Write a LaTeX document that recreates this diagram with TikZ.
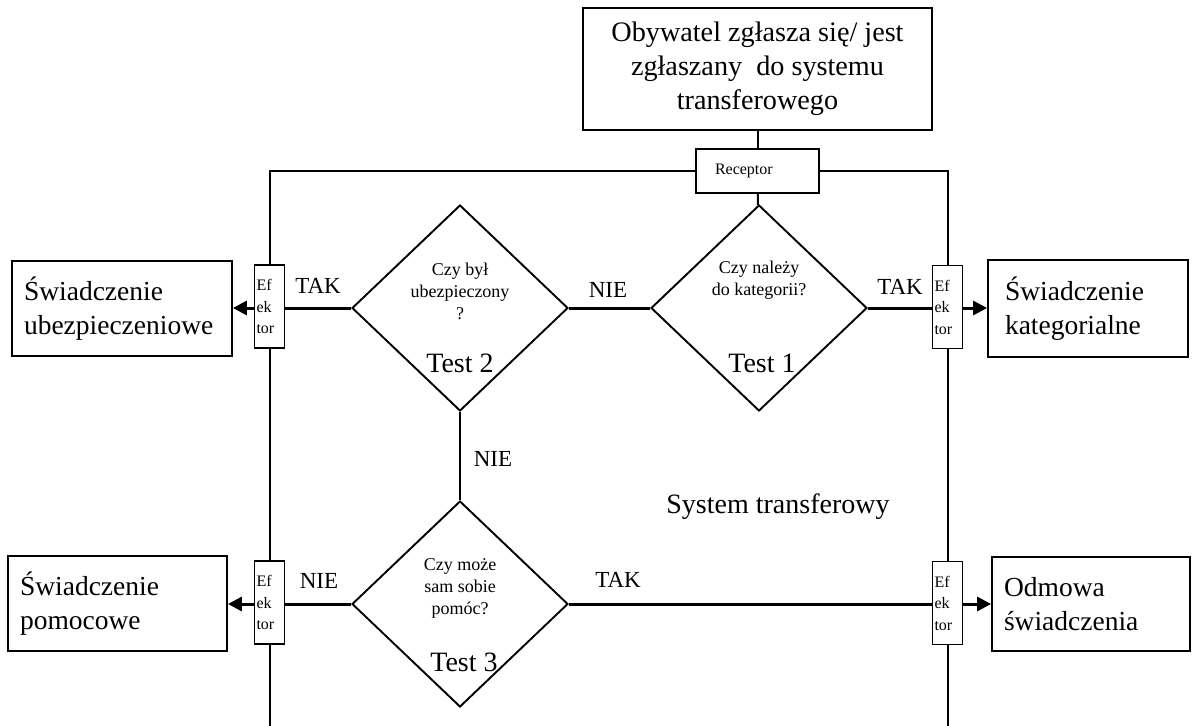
\documentclass[tikz,border=0pt]{standalone}
\usepackage{fontspec}
\setmainfont{Liberation Serif}
\usetikzlibrary{arrows.meta,positioning,shapes.geometric,calc}

\begin{document}
\begin{tikzpicture}[
  x=1pt, y=-1pt,
  outbox/.style={
    draw,
    line width=1.8pt,
    minimum height=95pt,
    inner xsep=12pt,
    align=left,
    font=\fontsize{27.5}{34}\selectfont
  },
  efektor/.style={
    draw,
    fill=white,
    line width=1.8pt,
    minimum width=30pt,
    minimum height=83pt,
    text width=26pt,
    inner xsep=2pt,
    inner ysep=0pt,
    align=left,
    font=\fontsize{16}{21.5}\selectfont
  },
  test/.style={diamond,draw,line width=1.9pt,inner sep=0pt,minimum width=216pt,minimum height=206pt},
  question/.style={align=center,font=\fontsize{18}{22}\selectfont},
  testname/.style={font=\fontsize{28}{30}\selectfont},
  answer/.style={font=\fontsize{23}{25}\selectfont},
  frame/.style={line width=2pt},
  link/.style={line width=3pt},
  arrow/.style={-{Triangle[length=14pt,width=14pt]},line width=3pt}
]
  \useasboundingbox (0,0) rectangle (1195,726);

  \node[draw,line width=1.8pt,minimum width=349pt,minimum height=122pt,align=center,
        font=\fontsize{28.2}{34}\selectfont] (zgloszenie) at (757.5,69)
        {Obywatel zgłasza się/ jest\\zgłaszany~ do systemu\\transferowego};
  \node[draw,fill=white,line width=1.8pt,minimum height=44pt,text width=85pt,inner xsep=19pt,
        align=left,font=\fontsize{16}{18}\selectfont] (receptor) at (757.5,171) {Receptor};

  % tests
  \node[test] (test1) at (759,308) {};
  \node[test] (test2) at (460,308) {};
  \node[test] (test3) at (460,604) {};
  \node[question] (pyt1) at (759,280) {Czy należy\\do kategorii?};
  \node[question] (pyt2) at (460,291) {Czy był\\ubezpieczony\\?};
  \node[question] (pyt3) at (460,588) {Czy może\\sam sobie\\pomóc?};
  \node[testname] (nazwa1) at (762,363) {Test 1};
  \node[testname] (nazwa2) at (460,363) {Test 2};
  \node[testname] (nazwa3) at (464,662) {Test 3};

  % outputs
  \node[outbox,text width=196pt] (ubezp) at (122,308.5) {Świadczenie\\ubezpieczeniowe};
  \node[outbox,text width=195pt] (pomoc) at (117.5,603.5) {Świadczenie\\pomocowe};
  \node[outbox,text width=166pt,inner xsep=17pt,minimum height=97pt] (kateg) at (1088,308.5) {Świadczenie\\kategorialne};
  \node[outbox,text width=174pt,minimum height=94pt] (odmowa) at (1091,604) {Odmowa\\świadczenia};

  \node[efektor] (efL1) at (269.5,306.5) {Ef\\ek\\tor};
  \node[efektor] (efL2) at (269.5,602.5) {Ef\\ek\\tor};
  \node[efektor] (efR1) at (947.5,307) {Ef\\ek\\tor};
  \node[efektor] (efR2) at (947.5,603) {Ef\\ek\\tor};
  \coordinate (endL) at (269.5,726);
  \coordinate (endR) at (947.5,726);

  % system frame
  \draw[frame] (receptor.west) -| (efL1.north);
  \draw[frame] (efL1.south) -- (efL2.north);
  \draw[frame] (efL2.south) -- (endL);
  \draw[frame] (receptor.east) -| (efR1.north);
  \draw[frame] (efR1.south) -- (efR2.north);
  \draw[frame] (efR2.south) -- (endR);

  \draw[frame] (zgloszenie) -- (receptor);
  \draw[frame] (receptor) -- (test1);
  \draw[link] (test2.east) -- (test1.west);
  \draw[link] (test1.east) -- (test1.east -| efR1.west);
  \draw[link] (test2.west) -- (test2.west -| efL1.east);
  \draw[frame] (test2.south) -- (test3.north);
  \draw[link] (test3.west) -- (test3.west -| efL2.east);
  \draw[link] (test3.east) -- (test3.east -| efR2.west);

  \draw[arrow] (test2.west -| efL1.west) -- (test2.west -| ubezp.east);
  \draw[arrow] (test1.east -| efR1.east) -- (test1.east -| kateg.west);
  \draw[arrow] (test3.west -| efL2.west) -- (test3.west -| pomoc.east);
  \draw[arrow] (test3.east -| efR2.east) -- (test3.east -| odmowa.west);

  % answers
  \node[answer] (tak2) at (318,286) {TAK};
  \node[answer] (tak1) at (900,287) {TAK};
  \node[answer] (nie1) at (608,290) {NIE};
  \node[answer] (nie2) at (493,459) {NIE};
  \node[answer] (nie3) at (319,581) {NIE};
  \node[answer] (tak3) at (618,580) {TAK};

  \node[font=\fontsize{28}{30}\selectfont] (system) at (778,507) {System transferowy};
\end{tikzpicture}
\end{document}
